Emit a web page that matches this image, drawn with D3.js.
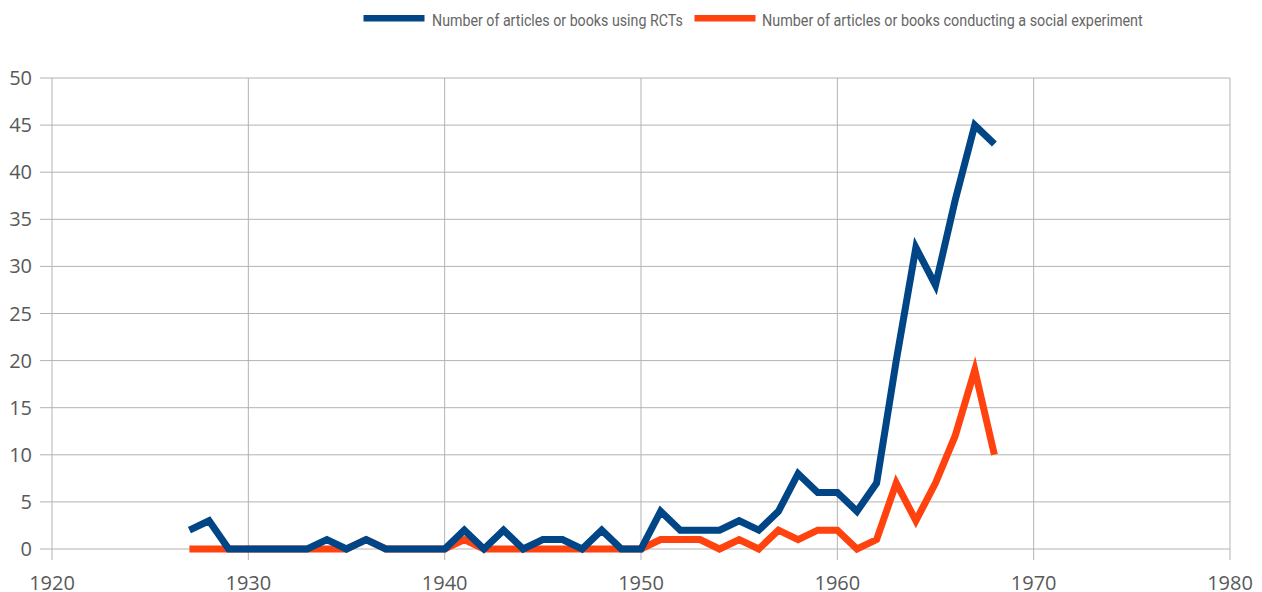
<!DOCTYPE html>
<html><head><meta charset="utf-8">
<script src="https://cdn.jsdelivr.net/npm/d3@7"></script>
<style>body{margin:0;background:#fff}svg{display:block}</style>
</head><body>
<svg id="c" width="1262" height="592"></svg>
<script>
const years = d3.range(1927, 1969);
const rctCounts = [2,3,0,0,0,0,0,1,0,1,0,0,0,0,2,0,2,0,1,1,0,2,0,0,4,2,2,2,3,2,4,8,6,6,4,7,20,32,28,37,45,43];
const socialCounts = [0,0,0,0,0,0,0,0,0,1,0,0,0,0,1,0,0,0,0,0,0,0,0,0,1,1,1,0,1,0,2,1,2,2,0,1,7,3,7,12,19,10];
const seriesNames = ["Number of articles or books using RCTs","Number of articles or books conducting a social experiment"];
const xTicks = [1920,1930,1940,1950,1960,1970,1980];
const yTicks = [0,5,10,15,20,25,30,35,40,45,50];

const svg = d3.select("#c");
const x = d3.scaleLinear().domain([1920,1980]).range([52,1230]);
const y = d3.scaleLinear().domain([0,50]).range([549,78]);
const font = "'Open Sans',sans-serif";

svg.append("g").selectAll("line").data(yTicks).join("line")
  .attr("x1",40).attr("x2",x(1980)).attr("y1",d=>y(d)).attr("y2",d=>y(d))
  .attr("stroke","#b3b3b3").attr("stroke-width",1);
svg.append("g").selectAll("line").data(xTicks).join("line")
  .attr("x1",d=>x(d)).attr("x2",d=>x(d)).attr("y1",y(50)).attr("y2",560)
  .attr("stroke","#b3b3b3").attr("stroke-width",1);

svg.append("g").selectAll("text").data(yTicks).join("text")
  .attr("x",32).attr("y",d=>y(d)).attr("dy","0.35em").attr("text-anchor","end")
  .attr("font-family",font).attr("font-size",20).attr("fill","#595959").text(d=>d);
svg.append("g").selectAll("text").data(xTicks).join("text")
  .attr("x",d=>x(d)).attr("y",590).attr("text-anchor","middle")
  .attr("font-family",font).attr("font-size",20).attr("fill","#595959").text(d=>d);

const line = d3.line().x(d=>x(d[0])).y(d=>y(d[1]));
svg.append("path").datum(years.map((yr,i)=>[yr,socialCounts[i]]))
  .attr("d",line).attr("fill","none").attr("stroke","#ff420e").attr("stroke-width",7)
  .attr("stroke-linejoin","miter");
svg.append("path").datum(years.map((yr,i)=>[yr,rctCounts[i]]))
  .attr("d",line).attr("fill","none").attr("stroke","#004586").attr("stroke-width",7)
  .attr("stroke-linejoin","miter");

const leg = [{x:363.5,tx:432,w:251,c:"#004586"},{x:694.5,tx:762,w:381,c:"#ff420e"}];
leg.forEach((l,i)=>{
  svg.append("line").attr("x1",l.x).attr("x2",l.x+61).attr("y1",18.3).attr("y2",18.3)
    .attr("stroke",l.c).attr("stroke-width",6.5);
  const g = svg.append("g");
  const t = g.append("text").attr("x",0).attr("y",0)
    .attr("font-family","Roboto,sans-serif").attr("font-size",16).attr("fill","#666")
    .text(seriesNames[i]);
  const natural = t.node().getComputedTextLength();
  g.attr("transform",`translate(${l.tx},25.5) scale(${l.w/natural},1)`);
});
</script>
</body></html>
